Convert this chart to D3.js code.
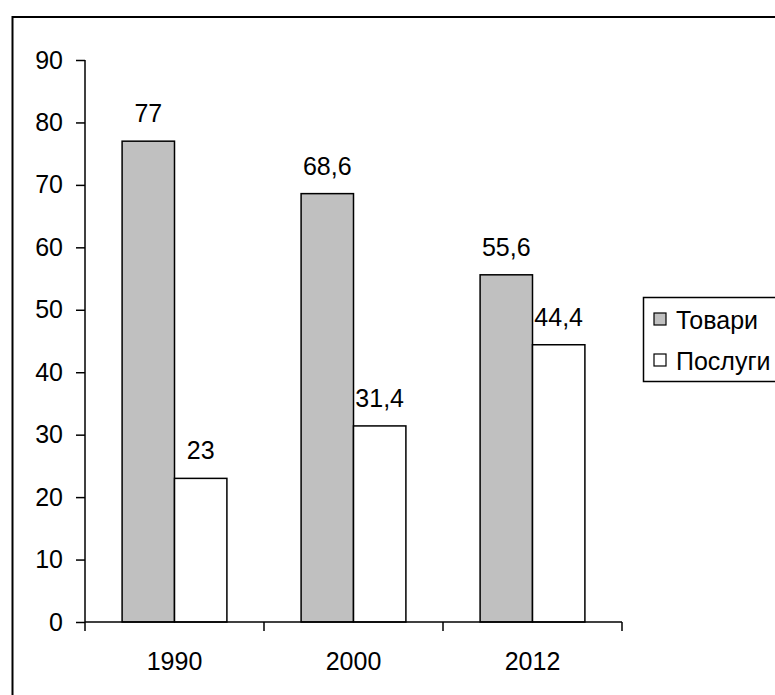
<!DOCTYPE html>
<html>
<head>
<meta charset="utf-8">
<script src="https://cdn.jsdelivr.net/npm/d3@7"></script>
<style>
  html, body { margin: 0; padding: 0; background: #fff; }
  svg { display: block; font-family: "Liberation Sans", Arial, sans-serif; }
</style>
</head>
<body>
<svg id="chart" width="775" height="695"></svg>
<script>
// Data
const years = ["1990", "2000", "2012"];
const goods = [77, 68.6, 55.6];      // Товари
const services = [23, 31.4, 44.4];   // Послуги
const seriesNames = ["Товари", "Послуги"];
const seriesFills = ["#c0c0c0", "#ffffff"];
const yTicks = [0, 10, 20, 30, 40, 50, 60, 70, 80, 90];

const FONT = 25;
const svg = d3.select("#chart");

// Outer frame (runs past the right and bottom edges)
svg.append("rect")
  .attr("x", 12.5).attr("y", 17)
  .attr("width", 800).attr("height", 720)
  .attr("fill", "none").attr("stroke", "#000").attr("stroke-width", 2);

const plot = { left: 85, right: 622, top: 60, bottom: 622 };

const x = d3.scaleBand().domain(years).range([plot.left, plot.right]).paddingInner(0).paddingOuter(0);
const y = d3.scaleLinear().domain([0, 90]).range([plot.bottom, plot.top]);
const inner = d3.scaleBand().domain(seriesNames).range([0, x.bandwidth()]).paddingInner(0).paddingOuter(0.708);

const fmt = v => String(v).replace(".", ",");

const rows = years.map((yr, i) => ({ year: yr, values: [goods[i], services[i]] }));

// Bars
const groups = svg.append("g").selectAll("g").data(rows).join("g")
  .attr("transform", d => `translate(${x(d.year)},0)`);

groups.selectAll("rect")
  .data(d => d.values.map((v, j) => ({ v, s: seriesNames[j], fill: seriesFills[j] })))
  .join("rect")
  .attr("x", d => inner(d.s))
  .attr("y", d => y(d.v))
  .attr("width", inner.bandwidth())
  .attr("height", d => y(0) - y(d.v))
  .attr("fill", d => d.fill)
  .attr("stroke", "#000")
  .attr("stroke-width", 1.5);

// Value labels
groups.selectAll("text")
  .data(d => d.values.map((v, j) => ({ v, s: seriesNames[j] })))
  .join("text")
  .attr("x", d => inner(d.s) + inner.bandwidth() / 2)
  .attr("y", d => y(d.v) - 19)
  .attr("text-anchor", "middle")
  .attr("font-size", FONT)
  .attr("fill", "#000")
  .text(d => fmt(d.v));

// Y axis
const yAxis = svg.append("g")
  .attr("transform", `translate(${plot.left},0)`)
  .call(d3.axisLeft(y).tickValues(yTicks).tickSize(9).tickPadding(13).tickFormat(d3.format("d")));
yAxis.select(".domain").attr("d", `M0,${plot.top}V${plot.bottom}`);
yAxis.selectAll("path, line").attr("stroke", "#000").attr("stroke-width", 1.5);
yAxis.selectAll("text").attr("font-size", FONT).attr("font-family", "Liberation Sans, Arial, sans-serif").attr("fill", "#000");

// X axis: ticks on band boundaries, labels centred in bands
const xAxisG = svg.append("g").attr("transform", `translate(0,${plot.bottom})`);
xAxisG.append("line")
  .attr("x1", plot.left).attr("x2", plot.right)
  .attr("stroke", "#000").attr("stroke-width", 1.5);
const boundaries = years.map(yr => x(yr)).concat([x(years[years.length - 1]) + x.bandwidth()]);
xAxisG.selectAll("line.tick").data(boundaries).join("line")
  .attr("class", "tick")
  .attr("x1", d => d).attr("x2", d => d)
  .attr("y1", 0).attr("y2", 9)
  .attr("stroke", "#000").attr("stroke-width", 1.5);
xAxisG.selectAll("text").data(years).join("text")
  .attr("x", d => x(d) + x.bandwidth() / 2)
  .attr("y", 48)
  .attr("text-anchor", "middle")
  .attr("font-size", FONT)
  .attr("fill", "#000")
  .text(d => d);

// Legend (frame continues past the right edge)
const legend = svg.append("g");
legend.append("rect")
  .attr("x", 643.5).attr("y", 297.5)
  .attr("width", 200).attr("height", 84)
  .attr("fill", "#fff").attr("stroke", "#000").attr("stroke-width", 1.5);
const items = legend.selectAll("g.item").data(seriesNames).join("g")
  .attr("class", "item")
  .attr("transform", (d, i) => `translate(0,${i * 41})`);
items.append("rect")
  .attr("x", 654).attr("y", 313)
  .attr("width", 12).attr("height", 12)
  .attr("fill", (d, i) => seriesFills[i])
  .attr("stroke", "#000").attr("stroke-width", 1.2);
items.append("text")
  .attr("x", 676).attr("y", 329)
  .attr("font-size", FONT)
  .attr("fill", "#000")
  .text(d => d);
</script>
</body>
</html>
